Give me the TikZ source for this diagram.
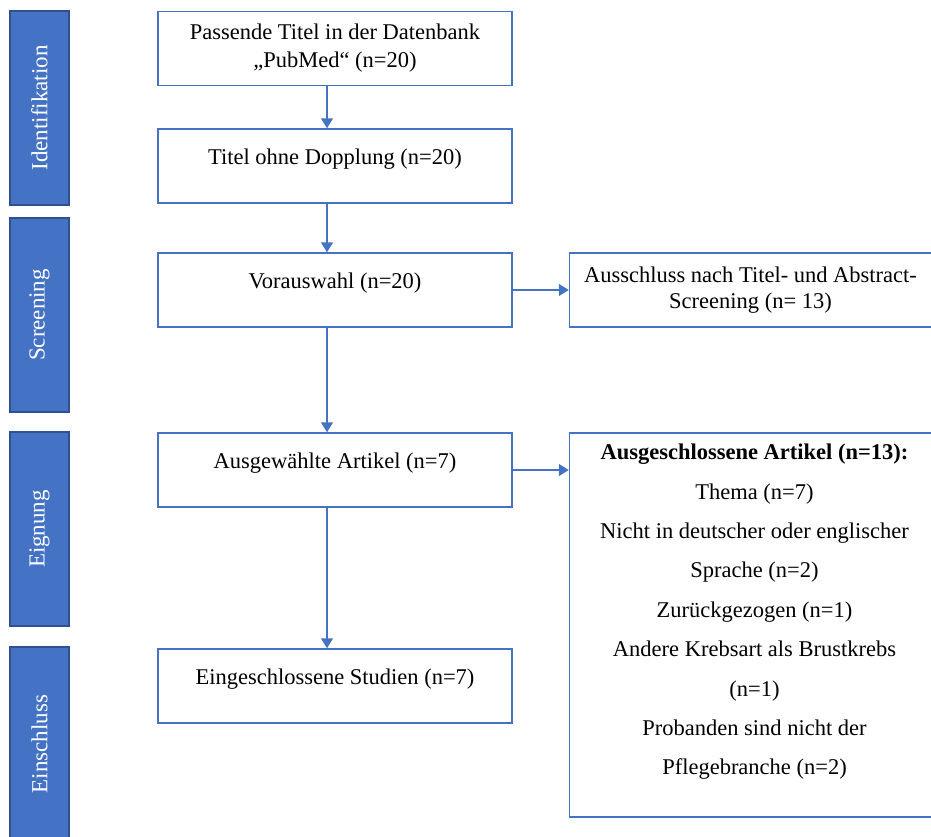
\documentclass[tikz,border=0pt]{standalone}
\usepackage{fontspec}
\setmainfont{Liberation Serif}
\usepackage{tikz}
\usetikzlibrary{positioning,arrows.meta}
\definecolor{wordblue}{HTML}{4472C4}
\definecolor{wordblueline}{HTML}{2F528F}

\begin{document}
\begin{tikzpicture}[x=0.5pt, y=-0.5pt,
    phase/.style={draw=wordblueline, line width=0.6pt, fill=wordblue, text=white,
      rotate=90, minimum width=97pt, minimum height=29.5pt, inner sep=0pt,
      font=\fontsize{11.5}{14}\selectfont},
    stepbox/.style={draw=wordblue, line width=0.75pt, minimum width=177pt,
      minimum height=37pt, inner sep=0pt, align=center,
      font=\fontsize{11.25}{14}\selectfont},
    oneline/.style={text height=8pt, text depth=9.4pt},
    outbox/.style={draw=wordblue, line width=0.75pt, minimum width=181pt,
      inner sep=0pt, align=center, font=\fontsize{11.25}{13}\selectfont},
    arr/.style={draw=wordblue, line width=0.75pt, -{Triangle[width=6pt,length=5pt]}}]
  \useasboundingbox (0,0) rectangle (931,836);

  % Phasen
  \node[phase] (ident) at (39.5,108) {Identifikation};
  \node[phase] (screen) at (39.5,315) {Screening};
  \node[phase] (eign) at (39.5,529) {Eignung};
  \node[phase] (einschl) at (39.5,744) {Einschluss};

  % Hauptspalte
  \node[stepbox] (treffer) at (335,48.5) {Passende Titel in der Datenbank\\„PubMed“ (n=20)};
  \node[stepbox, oneline] (dopplung) at (335,166) {Titel ohne Dopplung (n=20)};
  \node[stepbox, oneline] (vorauswahl) at (335,290) {Vorauswahl (n=20)};
  \node[stepbox, oneline] (auswahl) at (335,470) {Ausgewählte Artikel (n=7)};
  \node[stepbox, oneline] (studien) at (335,686) {Eingeschlossene Studien (n=7)};

  % Ausschluesse
  \node[outbox, minimum height=37pt, right=28pt of vorauswahl] (ausschluss)
    {Ausschluss nach Titel- und Abstract-\\Screening (n= 13)};
  \node[outbox, minimum height=192pt, anchor=north west] (gruende)
    at ([xshift=28pt]auswahl.north east) {};
  \node[anchor=north, inner sep=0pt, align=center,
    font=\fontsize{11.25}{19.7}\selectfont] (gruendetext)
    at ([xshift=2pt, yshift=-5.7pt]gruende.north)
    {\textbf{Ausgeschlossene Artikel (n=13):}\\Thema (n=7)\\
     Nicht in deutscher oder englischer\\Sprache (n=2)\\
     Zurückgezogen (n=1)\\Andere Krebsart als Brustkrebs\\(n=1)\\
     Probanden sind nicht der\\Pflegebranche (n=2)};

  \draw[arr] ([xshift=-4pt]treffer.south) -- ([xshift=-4pt]dopplung.north);
  \draw[arr] ([xshift=-4pt]dopplung.south) -- ([xshift=-4pt]vorauswahl.north);
  \draw[arr] ([xshift=-4pt]vorauswahl.south) -- ([xshift=-4pt]auswahl.north);
  \draw[arr] ([xshift=-4pt]auswahl.south) -- ([xshift=-4pt]studien.north);
  \draw[arr] (vorauswahl.east) -- (ausschluss.west);
  \draw[arr] (auswahl.east) -- (auswahl.east -| gruende.west);
\end{tikzpicture}
\end{document}
